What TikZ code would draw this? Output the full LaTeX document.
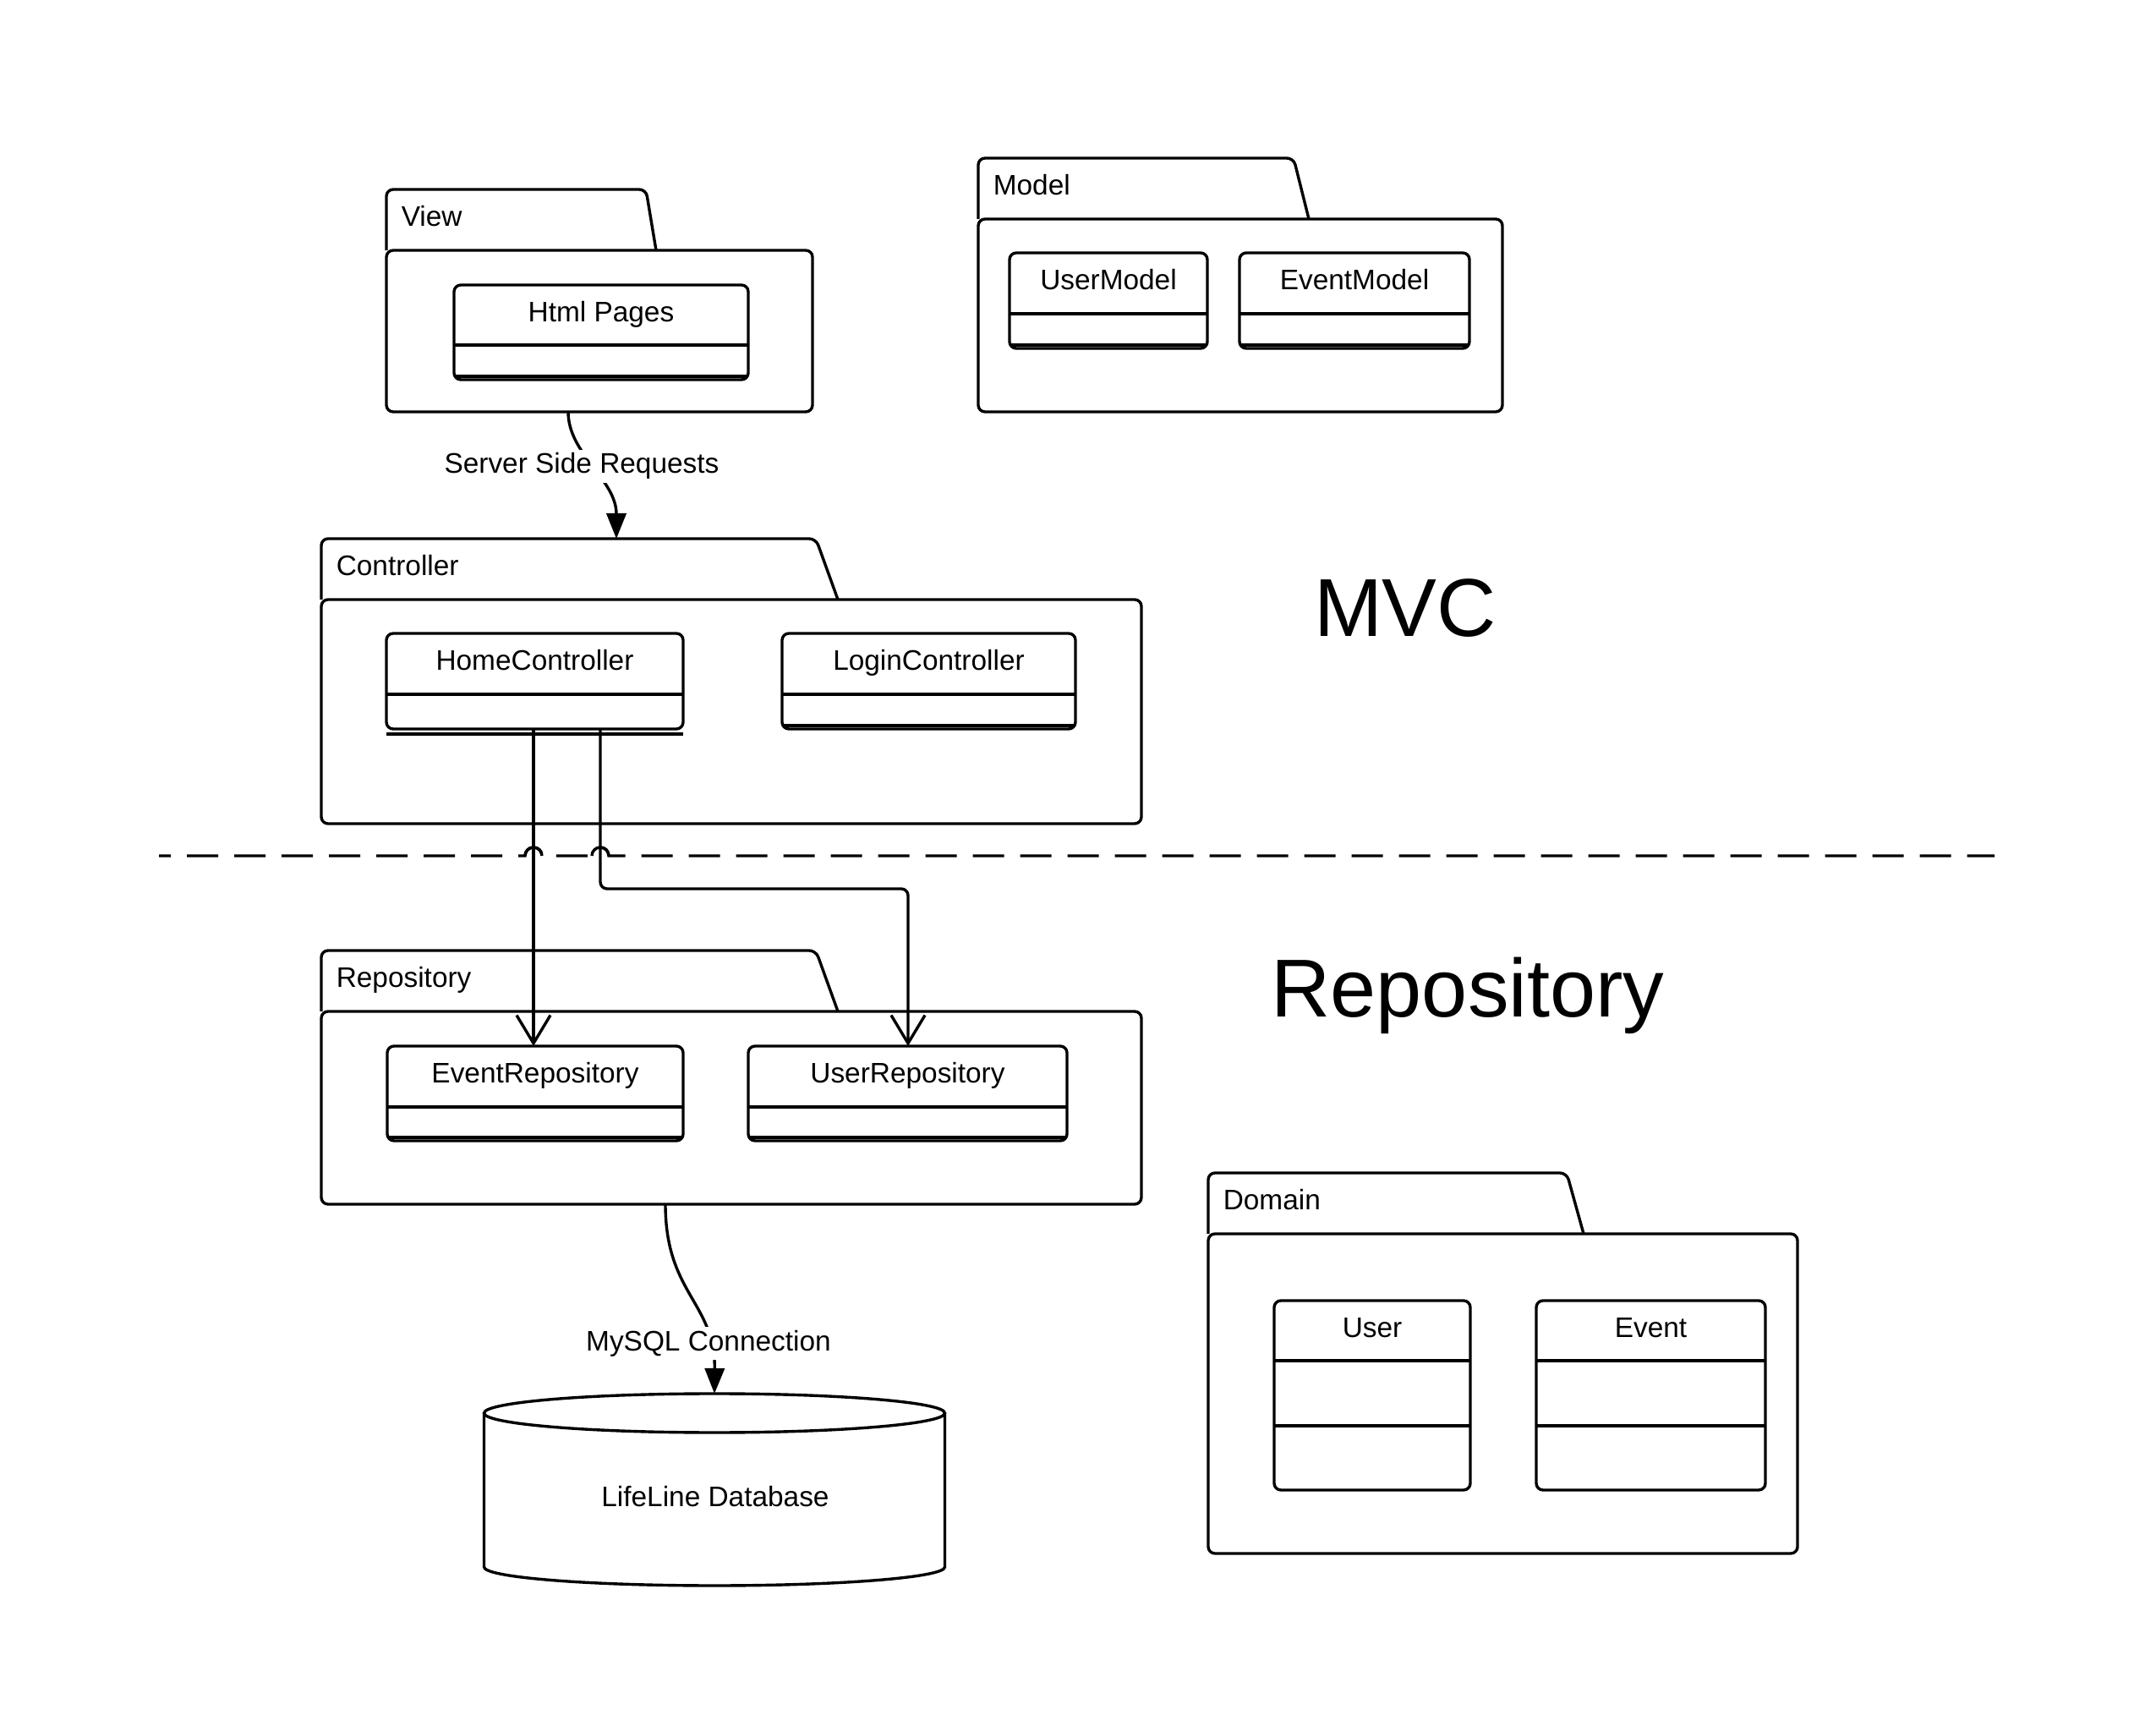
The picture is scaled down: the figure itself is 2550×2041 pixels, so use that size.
\documentclass[tikz,border=0pt]{standalone}
\usepackage{fontspec}
\setmainfont{Liberation Sans}
\usetikzlibrary{arrows.meta,calc}
\tikzset{
  ln/.style={line width=0.85pt},
  boxshape/.style={draw, rectangle, line width=0.85pt, rounded corners=2pt, inner sep=0pt, outer sep=0pt},
  smalltxt/.style={font=\fontsize{8.35pt}{10pt}\selectfont, inner sep=0pt},
  bigtxt/.style={font=\fontsize{24.3pt}{29pt}\selectfont, inner sep=0pt},
  dep/.style={line width=0.85pt, -{Straight Barb[length=8.3pt, width=10pt, line width=0.85pt]}},
  assoc/.style={line width=0.85pt, -{Triangle[length=7.5pt, width=5.8pt]}},
}
% package: name, x1, tabtop, tab right, slant end, x2, bottom, label
\newcommand\pkgbox[8]{%
  \draw[ln, rounded corners=2pt] (#2,#3+72) -- (#2,#3) -- (#4,#3) -- (#5,#3+72);
  \coordinate (#1-tab) at (#2,#3);
  \node[boxshape, anchor=north west, minimum width={(#6-#2)*0.25pt}, minimum height={(#7-#3-72)*0.25pt}] (#1) at (#2,#3+72) {};
  \node[smalltxt, anchor=base west] (#1-label) at (#2+17,#3+44) {#8};
}
% class: name, x1, y1, x2, y2, label, divider y
\newcommand\clsbox[7]{%
  \node[boxshape, anchor=north west, minimum width={(#4-#2)*0.25pt}, minimum height={(#5-#3)*0.25pt}] (#1) at (#2,#3) {};
  \node[smalltxt, anchor=base] (#1-label) at ($(#1.north)+(0,44)$) {#6};
  \draw[ln] (#2,#7) -- (#4,#7);
}
\newcommand\thickbottom[1]{%
  \draw[ln] ($(#1.south west)+(1.5,-4)$) -- ($(#1.south east)+(-1.5,-4)$);
}
\begin{document}
\begin{tikzpicture}[x=0.25pt, y=-0.25pt]
\fill[white] (0,0) rectangle (2550,2041);
\path[use as bounding box] (0,0) rectangle (2550,2041);

% View
\pkgbox{view}{457}{224}{764}{776}{961}{487}{View}
\clsbox{html}{537}{337}{885}{449}{Html Pages}{408}
\thickbottom{html}

% Model
\pkgbox{model}{1157}{187}{1530}{1548}{1777}{487}{Model}
\clsbox{umodel}{1194}{299}{1428}{412}{UserModel}{371}
\thickbottom{umodel}
\clsbox{emodel}{1466}{299}{1738}{412}{EventModel}{371}
\thickbottom{emodel}

% Controller
\pkgbox{ctrl}{380}{637}{965}{991}{1350}{974}{Controller}
\clsbox{home}{457}{749}{808}{862}{HomeController}{821}
\draw[ln] (457,868) -- (808,868);
\clsbox{login}{925}{749}{1272}{862}{LoginController}{821}
\thickbottom{login}

% Repository
\pkgbox{repo}{380}{1124}{965}{991}{1350}{1424}{Repository}
\clsbox{erepo}{458}{1237}{808}{1349}{EventRepository}{1309}
\thickbottom{erepo}
\clsbox{urepo}{885}{1237}{1262}{1349}{UserRepository}{1309}
\thickbottom{urepo}

% Domain
\pkgbox{domain}{1429}{1387}{1853}{1873}{2126}{1837}{Domain}
\clsbox{user}{1507}{1538}{1739}{1762}{User}{1609}
\draw[ln] (1507,1686) -- (1739,1686);
\clsbox{event}{1817}{1538}{2088}{1762}{Event}{1609}
\draw[ln] (1817,1686) -- (2088,1686);

% Big titles
\node[bigtxt, anchor=base] (mvc) at (1662,753) {MVC};
\node[bigtxt, anchor=base] (repotitle) at (1736,1203) {Repository};

% Database cylinder
\node[minimum width={545*0.25pt}, minimum height={228*0.25pt}, inner sep=0pt, outer sep=0pt, anchor=north] (db) at (845,1648) {};
\draw[ln] (845,1671) ellipse [x radius=272.5, y radius=23];
\draw[ln] (572.5,1671) -- (572.5,1853) arc[start angle=180, end angle=0, x radius=272.5, y radius=22] -- (1117.5,1671);
\node[smalltxt, anchor=base] (dblabel) at (846,1781) {LifeLine Database};

% Separator with hops
\draw[ln, dash pattern=on 9.25pt off 4.75pt, dash phase=5.75pt]
  (188,1012) -- (621,1012) arc[start angle=180, end angle=360, radius=10]
  -- (700,1012) arc[start angle=180, end angle=360, radius=10] -- (2359,1012);
\draw[ln] (621,1012) arc[start angle=180, end angle=360, radius=10];
\draw[ln] (700,1012) arc[start angle=180, end angle=360, radius=10];

% Connectors
\draw[assoc] ($(view.south west)+(215,0)$) .. controls ($(view.south west)+(215,50)$) and ($(ctrl-tab)+(349,-70)$) .. ($(ctrl-tab)+(349,0)$);
\node[smalltxt, fill=white, inner sep=1pt, anchor=base] (ssr) at (688,560) {Server Side Requests};

\draw[dep] ($(home.south west)+(174,0)$) coordinate (c1) -- (c1 |- erepo.north);
\draw[dep, rounded corners=2pt] ($(home.south west)+(253,0)$) coordinate (c2) |- ($(urepo.north west)+(189,-186)$) -- ($(urepo.north west)+(189,0)$);

\draw[assoc] ($(repo.south west)+(407,0)$) .. controls ($(repo.south west)+(407,106)$) and ($(db.north)+(1,-108)$) .. (db.north);
\node[smalltxt, fill=white, inner sep=1pt, anchor=base] (mysql) at (838,1597) {MySQL Connection};
\end{tikzpicture}
\end{document}
